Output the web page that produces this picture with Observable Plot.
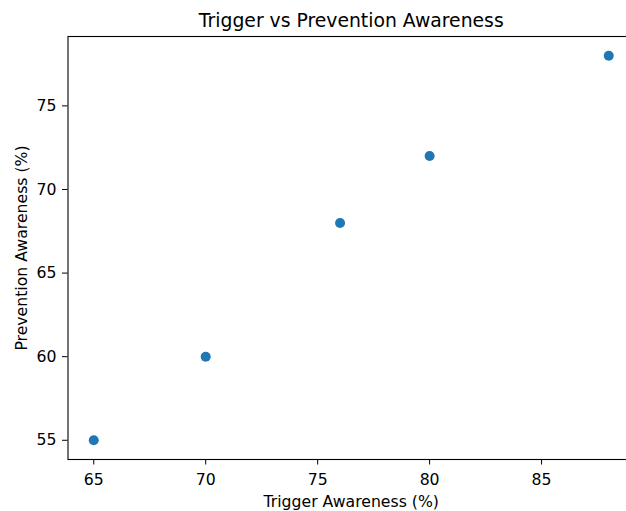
<!DOCTYPE html>
<html>
<head>
<meta charset="utf-8">
<script src="https://cdn.jsdelivr.net/npm/d3@7"></script>
<script src="https://cdn.jsdelivr.net/npm/@observablehq/plot@0.6"></script>
<style>
  html, body { margin: 0; padding: 0; background: #fff; overflow: hidden; }
  #chart { width: 626px; height: 511px; overflow: hidden; }
  #chart svg { display: block; max-width: none !important; width: 640px; height: 511px; }
</style>
</head>
<body>
<div id="chart"></div>
<script>
const triggerAwareness = [65, 70, 76, 80, 88];
const preventionAwareness = [55, 60, 68, 72, 78];
const xTicks = [65, 70, 75, 80, 85];
const yTicks = [55, 60, 65, 70, 75];
const title = "Trigger vs Prevention Awareness";
const xLabel = "Trigger Awareness (%)";
const yLabel = "Prevention Awareness (%)";

const data = triggerAwareness.map((x, i) => ({x, y: preventionAwareness[i]}));

const font = "DejaVu Sans, sans-serif";
const plot = Plot.plot({
  width: 640,
  height: 511,
  marginTop: 36,
  marginLeft: 67.5,
  marginRight: 6,
  marginBottom: 52,
  style: {fontFamily: font, fontSize: "15.7px", color: "#000", background: "#fff"},
  x: {domain: [63.85, 89.15], ticks: xTicks, label: null},
  y: {domain: [53.85, 79.15], ticks: yTicks, label: null},
  marks: [
    Plot.axisX({ticks: xTicks, tickSize: 5.5, tickPadding: 8.5, label: null, fontSize: 15.7, stroke: "#000"}),
    Plot.axisY({ticks: yTicks, tickSize: 5.5, tickPadding: 6, label: null, fontSize: 15.7, stroke: "#000"}),
    Plot.frame({stroke: "#000", strokeWidth: 1.1}),
    Plot.dot(data, {x: "x", y: "y", r: 5, fill: "#1f77b4", stroke: "none"}),
    Plot.text([title], {frameAnchor: "top", lineAnchor: "middle", text: d => d, dy: -15.5, fontSize: 18.8, fill: "#000"}),
    Plot.text([xLabel], {frameAnchor: "bottom", lineAnchor: "middle", text: d => d, dy: 42, fontSize: 15.7, fill: "#000"}),
    Plot.text([yLabel], {frameAnchor: "left", lineAnchor: "middle", textAnchor: "middle", text: d => d, dx: -46.5, rotate: -90, fontSize: 15.7, fill: "#000"})
  ]
});
document.getElementById("chart").appendChild(plot);
</script>
</body>
</html>
